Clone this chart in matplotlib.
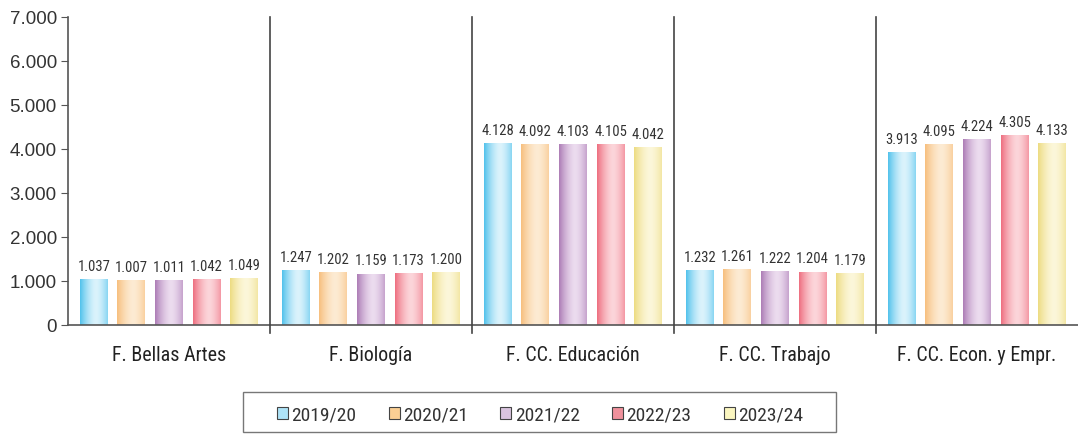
import numpy as np
import matplotlib
matplotlib.use("Agg")
import matplotlib.pyplot as plt
import matplotlib.font_manager as fm
from matplotlib.patches import Patch, Rectangle
from matplotlib.colors import to_rgb
from matplotlib.ticker import FuncFormatter

categories = ["F. Bellas Artes", "F. Biología", "F. CC. Educación", "F. CC. Trabajo", "F. CC. Econ. y Empr."]
years = ["2019/20", "2020/21", "2021/22", "2022/23", "2023/24"]
v2019 = [1037, 1247, 4128, 1232, 3913]
v2020 = [1007, 1202, 4092, 1261, 4095]
v2021 = [1011, 1159, 4103, 1222, 4224]
v2022 = [1042, 1173, 4105, 1204, 4305]
v2023 = [1049, 1200, 4042, 1179, 4133]
series = [v2019, v2020, v2021, v2022, v2023]

edge_cols = ["#52c2ec", "#f7bf7e", "#ad7db6", "#ee6f80", "#eddc82"]
light_cols = ["#dbf3fc", "#fdebd3", "#ecdcef", "#fcd5da", "#fcf7da"]
legend_cols = ["#aee3f7", "#fbcf94", "#d9c3de", "#f0919c", "#fbf6c0"]

# look for an installed condensed sans-serif face
cond_path = None
prefs = ["Liberation Sans Narrow", "Roboto Condensed", "Open Sans Condensed", "Noto Sans", "Roboto", "Open Sans"]
cands = []
for e in fm.fontManager.ttflist:
    is_cond = ("condensed" in str(e.stretch)) or ("Narrow" in e.name) or ("Condensed" in e.name)
    if not is_cond or e.style != "normal":
        continue
    try:
        w = int(e.weight)
    except Exception:
        w = 400 if str(e.weight) in ("normal", "regular", "book") else 700
    if w != 400:
        continue
    if "extra" in str(e.stretch) or "ultra" in str(e.stretch):
        continue
    rank = prefs.index(e.name) if e.name in prefs else len(prefs)
    semi = 1 if "semi" in str(e.stretch) else 0
    cands.append((rank, semi, e.fname))
cands.sort()
if cands:
    cond_path = cands[0][2]

def cprop(size):
    if cond_path:
        return fm.FontProperties(fname=cond_path, size=size)
    return fm.FontProperties(family=["Liberation Sans", "DejaVu Sans"], size=size * 0.88)

REG = ["Liberation Sans", "DejaVu Sans"]

fig = plt.figure(figsize=(10.78, 4.38), dpi=100)
ax = fig.add_axes([68/1078, 1-325/438, 1-68/1078, (325-17)/438])

width = 0.138
step = 0.186
x = np.arange(len(categories))

t = np.linspace(0, 1, 64)
prof = np.clip(1 - np.abs((t - 0.58) / 0.58) ** 1.6, 0, 1)

for i, vals in enumerate(series):
    pos = x + (i - 2) * step
    bars = ax.bar(pos, vals, width, color="none", edgecolor="none", zorder=2)
    c0 = np.array(to_rgb(edge_cols[i]))
    c1 = np.array(to_rgb(light_cols[i]))
    grad = c0[None, :] * (1 - prof[:, None]) + c1[None, :] * prof[:, None]
    img = grad[None, :, :]
    for b, v in zip(bars, vals):
        x0 = b.get_x()
        ax.imshow(img, extent=(x0, x0 + width, 0, v), aspect="auto",
                  origin="lower", zorder=2, interpolation="bilinear")
        ax.annotate(f"{v/1000:.3f}", (x0 + width/2, v), xytext=(0, 4),
                    textcoords="offset points", ha="center", va="bottom",
                    color="#333333", fontproperties=cprop(10.5))

ax.set_xlim(-0.5, 4.5)
ax.set_ylim(0, 7000)
ax.set_yticks(range(0, 7001, 1000))
ax.yaxis.set_major_formatter(FuncFormatter(lambda v, p: f"{int(v):,}".replace(",", ".")))
ax.tick_params(axis="y", length=5, direction="out", color="#555555",
               labelsize=13.5, labelcolor="#333333", pad=3)
for lab in ax.get_yticklabels():
    lab.set_family(REG)
ax.set_xticks(x)
ax.set_xticklabels(categories, color="#222222", fontproperties=cprop(14.4))
ax.tick_params(axis="x", length=0, pad=15)

for s in ["top", "right"]:
    ax.spines[s].set_visible(False)
for s in ["left", "bottom"]:
    ax.spines[s].set_color("#555555")
    ax.spines[s].set_linewidth(1.2)

for sx in [0.5, 1.5, 2.5, 3.5]:
    ax.axvline(sx, ymin=-0.026, ymax=1, color="#444444", lw=1.2, clip_on=False, zorder=3)

# legend frame drawn separately to match the reference box
fig.patches.append(Rectangle((243/1078, 1-432/438), (836-243)/1078, 40/438,
                             transform=fig.transFigure, facecolor="white",
                             edgecolor="#777777", lw=1.0, zorder=0))
handles = [Patch(facecolor=legend_cols[i], edgecolor="#444444", lw=0.8) for i in range(5)]
leg = fig.legend(handles, years, loc="center", bbox_to_anchor=(540/1078, 1-415/438),
                 ncol=5, frameon=False,
                 handlelength=0.57, handleheight=0.57, handletextpad=0.18,
                 columnspacing=1.65, borderpad=0.3,
                 prop=cprop(14))
for tx in leg.get_texts():
    tx.set_color("#333333")

fig.savefig("out.png", dpi=100)
